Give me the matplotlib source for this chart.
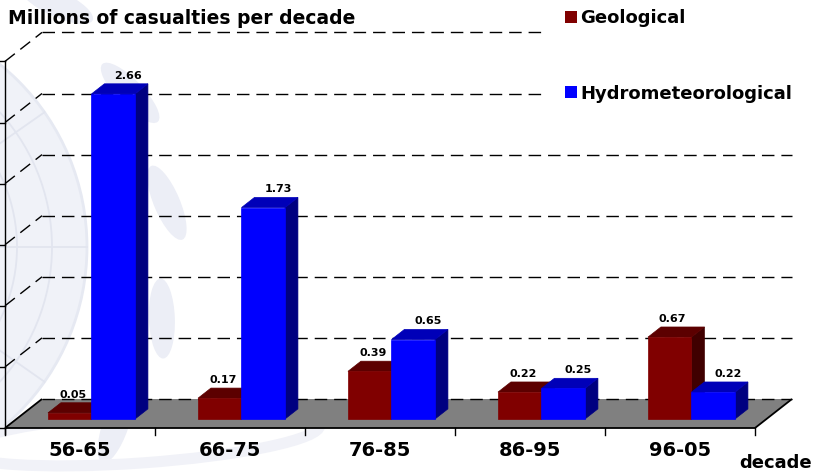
import numpy as np
import matplotlib.pyplot as plt
from matplotlib.patches import Polygon, Circle, Ellipse, Patch

# data
decades = ['56-65', '66-75', '76-85', '86-95', '96-05']
geological = [0.05, 0.17, 0.39, 0.22, 0.67]
hydromet = [2.66, 1.73, 0.65, 0.25, 0.22]
series_names = ['Geological', 'Hydrometeorological']
grid_values = np.arange(0, 3.01, 0.5)

# colours: front / top / side faces
RED = ('#800000', '#5c0000', '#400000')
BLUE = ('#0000ff', '#0000b8', '#000080')

# oblique projection, full depth shift in data units
DX, DY = 37 / 150, 29 / 122.2
D0, D1 = 0.31, 0.66   # depth span of bars
BAR_W = 0.29


def proj(u, v, d):
    return u + d * DX, v + d * DY


def draw_bar(ax, x0, h, cols):
    x1 = x0 + BAR_W
    front = [proj(x0, 0, D0), proj(x1, 0, D0), proj(x1, h, D0), proj(x0, h, D0)]
    top = [proj(x0, h, D0), proj(x1, h, D0), proj(x1, h, D1), proj(x0, h, D1)]
    side = [proj(x1, 0, D0), proj(x1, 0, D1), proj(x1, h, D1), proj(x1, h, D0)]
    for pts, c in ((side, cols[2]), (top, cols[1]), (front, cols[0])):
        ax.add_patch(Polygon(pts, closed=True, facecolor=c, edgecolor=c,
                             lw=0.5, zorder=4))


fig = plt.figure(figsize=(8.16, 4.75), dpi=100)
fig.patch.set_facecolor('white')

# faint globe watermark behind the chart (pixel coords)
bg = fig.add_axes([0, 0, 1, 1], zorder=-1)
bg.set_xlim(0, 816)
bg.set_ylim(475, 0)
bg.axis('off')
gx, gy = -148, 247
bg.add_patch(Circle((gx, gy), 235, facecolor='#f0f2f8', edgecolor='#e6e9f2', lw=2))
for r in (60, 120, 165, 200):
    bg.add_patch(Circle((gx, gy), r, facecolor='none', edgecolor='#e2e5ef', lw=1.3))
bg.plot([gx, gx + 235], [gy, gy], color='#e2e5ef', lw=1.3)
for ang in np.radians([-35, 35]):
    bg.plot([gx, gx + 235 * np.cos(ang)], [gy, gy + 235 * np.sin(ang)],
            color='#e2e5ef', lw=1.3)
for ang in np.linspace(-50, 55, 6):
    a = np.radians(ang)
    ex, ey = gx + 318 * np.cos(a), gy + 318 * np.sin(a)
    bg.add_patch(Ellipse((ex, ey), 26, 80, angle=ang - 15,
                         facecolor='#eceef6', edgecolor='none'))
bg.add_patch(Ellipse((140, 438), 360, 50, angle=-4, facecolor='none',
                     edgecolor='#f1f2f8', lw=8))

# main axes, x in category units, y in millions
ax = fig.add_axes([0, 0, 1, 1])
ax.set_facecolor('none')
ax.set_xlim(-80 / 150, 736 / 150)
ax.set_ylim(-47 / 122.2, 428 / 122.2)
ax.axis('off')

n = len(decades)
left, right = -0.5, n - 0.5

# floor
floor = [proj(left, 0, 0), proj(right, 0, 0), proj(right, 0, 1), proj(left, 0, 1)]
ax.add_patch(Polygon(floor, closed=True, facecolor='#808080', edgecolor='none', zorder=1))

# dashed grid on back and left walls
dash = dict(color='black', lw=1.0, linestyle=(0, (9, 5)), zorder=2)
for v in grid_values:
    bx0, by = proj(left, v, 1)
    bx1, _ = proj(right, v, 1)
    ax.plot([bx0, bx1], [by, by], **dash)
    if v > 0:
        ax.plot([left, bx0], [v, by], **dash)

# front axis, floor edges and ticks
edge = dict(color='black', lw=1.3, zorder=3, solid_capstyle='butt')
ax.plot([left, right], [0, 0], **edge)
ax.plot([left, proj(left, 0, 1)[0]], [0, DY], **edge)
ax.plot([right, proj(right, 0, 1)[0]], [0, DY], **edge)
ax.plot([left, left], [-0.05, grid_values[-1]], color='black', lw=1.0, zorder=3)
for v in grid_values:
    ax.plot([left - 5 / 150, left], [v, v], color='black', lw=1.0, zorder=3)
for b in np.arange(left, right + 0.01, 1.0):
    ax.plot([b, b], [0, -7 / 122.2], color='black', lw=1.0, zorder=3)

# bars + value labels
for i in range(n):
    xr = i - BAR_W
    xb = i
    draw_bar(ax, xr, geological[i], RED)
    draw_bar(ax, xb, hydromet[i], BLUE)
    for x0, h, off in ((xr, geological[i], 3), (xb, hydromet[i], 15)):
        tx = x0 + BAR_W / 2 + D0 * DX + off / 150
        ty = h + D1 * DY + 8 / 122.2
        ax.text(tx, ty, f'{h:.2f}', ha='center', va='center',
                fontsize=8, fontweight='bold', zorder=5)
    ax.text(i, -23 / 122.2, decades[i], ha='center', va='center',
            fontsize=14, fontweight='bold')

fig.text(8 / 816, 1 - 18 / 475, 'Millions of casualties per decade',
         ha='left', va='center', fontsize=13.5, fontweight='bold')
fig.text(812 / 816, 1 - 463 / 475, 'decade', ha='right', va='center',
         fontsize=13, fontweight='bold')

handles = [Patch(facecolor=RED[0]), Patch(facecolor=BLUE[0])]
leg = ax.legend(handles, series_names, loc='upper left',
                bbox_to_anchor=(548 / 816, 1 + 8 / 475), bbox_transform=fig.transFigure,
                frameon=True, facecolor='white', edgecolor='none', framealpha=1,
                fancybox=False, prop={'size': 13, 'weight': 'bold'},
                labelspacing=3.2, handlelength=0.66, handleheight=0.66,
                handletextpad=0.2, borderpad=0.94, borderaxespad=0)
leg.set_zorder(6)

fig.savefig('out.png', dpi=100)
